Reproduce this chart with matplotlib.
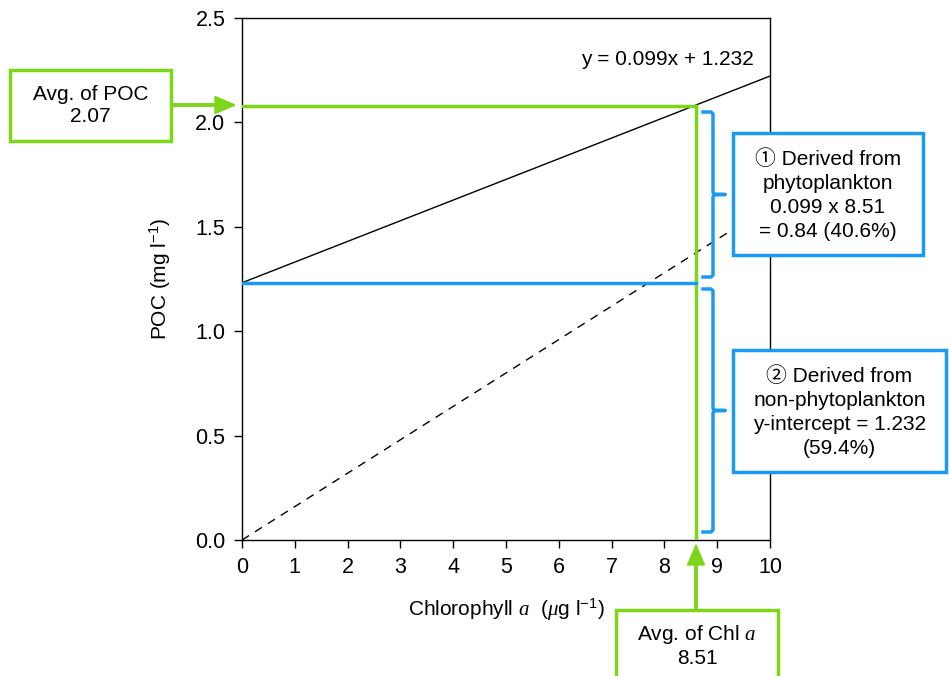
import matplotlib

matplotlib.use("Agg")
import matplotlib.pyplot as plt  # noqa: E402
import matplotlib.transforms as mtransforms  # noqa: E402
from matplotlib.patches import Rectangle, FancyArrow  # noqa: E402

# regression of POC on Chl a
slope = 0.099
intercept = 1.232
# dashed reference line through the origin
dash_slope = 0.16
# average point as drawn (labels state 8.51 / 2.07)
avg_chl_drawn = 8.6
avg_poc_drawn = 2.08
avg_chl_label = "8.51"
avg_poc_label = "2.07"

x_ticks = [0, 1, 2, 3, 4, 5, 6, 7, 8, 9, 10]
y_ticks = [0.0, 0.5, 1.0, 1.5, 2.0, 2.5]

GREEN = "#7ed61a"
BLUE = "#1a9af2"
FONT = ["Liberation Sans", "Noto Sans CJK JP", "DejaVu Sans"]
FS = 15

plt.rcParams["font.family"] = FONT
plt.rcParams["font.size"] = FS
plt.rcParams["mathtext.fontset"] = "custom"
plt.rcParams["mathtext.rm"] = "Liberation Sans"
plt.rcParams["mathtext.it"] = "Liberation Serif:italic"
plt.rcParams["mathtext.sf"] = "Liberation Sans"

W, H = 949, 676
fig = plt.figure(figsize=(W / 100, H / 100), dpi=100)
ax = fig.add_axes([242 / W, 1 - 540 / H, (770 - 242) / W, (540 - 18) / H])

# pixel coords (top-left origin) -> figure
px = mtransforms.Affine2D().scale(1 / W, -1 / H).translate(0, 1) + fig.transFigure

ax.plot([0, 10], [intercept, intercept + slope * 10], color="black", lw=1.0, zorder=3)
ax.plot([0, 10], [0, dash_slope * 10], color="black", lw=1.0, ls=(0, (6, 5)), zorder=3)
ax.plot([0, avg_chl_drawn], [avg_poc_drawn, avg_poc_drawn], color=GREEN, lw=2.5, zorder=4)
ax.plot([avg_chl_drawn, avg_chl_drawn], [0, avg_poc_drawn], color=GREEN, lw=2.5, zorder=4)
ax.plot([0, avg_chl_drawn], [intercept, intercept], color=BLUE, lw=2.5, zorder=4)

ax.set_xlim(0, 10)
ax.set_ylim(0, 2.5)
ax.set_xticks(x_ticks)
ax.set_yticks(y_ticks)
ax.set_yticklabels([f"{v:.1f}" for v in y_ticks])
ax.tick_params(direction="out", length=6, width=1, labelsize=15.5, pad=6)
for s in ax.spines.values():
    s.set_linewidth(1.0)

ax.set_xlabel(r"Chlorophyll $\mathit{a}$  ($\mu$g l$^{-1}$)", fontsize=FS, labelpad=14)
ax.set_ylabel(r"POC (mg l$^{-1}$)", fontsize=FS, labelpad=16)

ax.text(0.97, 0.92, f"y = {slope}x + {intercept}", transform=ax.transAxes,
        ha="right", va="center", fontsize=FS)


def box(x0, y0, x1, y1, color, text, cy, ls=1.32):
    fig.add_artist(Rectangle((x0, y1), x1 - x0, y0 - y1, transform=px,
                             facecolor="white", edgecolor=color, lw=2.5, zorder=10))
    fig.text((x0 + x1) / 2 / W, 1 - cy / H, text, ha="center", va="center",
             fontsize=FS, linespacing=ls, zorder=11)


box(10, 70, 171, 141, GREEN, f"Avg. of POC\n{avg_poc_label}", 105, 1.2)
box(616, 610, 778, 700, GREEN, f"Avg. of Chl $\\mathit{{a}}$\n{avg_chl_label}", 645, 1.2)
box(733, 133, 923, 255, BLUE,
    "\u2460 Derived from\nphytoplankton\n0.099 x 8.51\n= 0.84 (40.6%)", 195)
box(733, 350, 946, 472, BLUE,
    "\u2461 Derived from\nnon-phytoplankton\ny-intercept = 1.232\n(59.4%)", 412)

# arrows
fig.add_artist(FancyArrow(171, 105, 64, 0, width=2.5, head_width=17, head_length=20,
                          length_includes_head=True, transform=px, color=GREEN, zorder=9))
fig.add_artist(FancyArrow(696, 610, 0, -65, width=2.5, head_width=17, head_length=20,
                          length_includes_head=True, transform=px, color=GREEN, zorder=9))


def brace(top, bot, x=713, left=703, tip=725):
    mid = (top + bot) / 2
    xs = [left, x - 2, x, x, x + 2, tip, x + 2, x, x, x - 2, left]
    ys = [top, top, top + 2, mid - 2, mid, mid, mid, mid + 2, bot - 2, bot, bot]
    fig.add_artist(plt.Line2D(xs, ys, transform=px, color=BLUE, lw=2.5,
                              solid_joinstyle="round", zorder=9))


brace(112, 277)
brace(289, 532)

fig.savefig("out.png", dpi=100)
